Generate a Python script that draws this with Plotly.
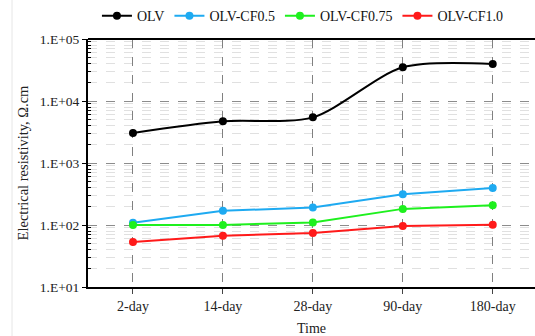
import plotly.graph_objects as go

# Curing ages and resistivity (Ω·cm) per mix
ages = ["2-day", "14-day", "28-day", "90-day", "180-day"]
olv = [3050, 4700, 5450, 35000, 39400]
olv_cf05 = [109, 169, 192, 313, 395]
olv_cf075 = [100, 100, 110, 182, 209]
olv_cf10 = [53, 67, 74, 96, 101]

series = [
    ("OLV", olv, "#000000", "spline"),
    ("OLV-CF0.5", olv_cf05, "#1EAAF1", "linear"),
    ("OLV-CF0.75", olv_cf075, "#1EF01E", "linear"),
    ("OLV-CF1.0", olv_cf10, "#FF1A1A", "linear"),
]

tick_vals = [10, 100, 1000, 10000, 100000]
tick_text = ["1.E+01", "1.E+02", "1.E+03", "1.E+04", "1.E+05"]
# intermediate 2..9 x 10^k grid positions
minor_vals = [m * 10 ** k for k in range(1, 5) for m in range(2, 10)]

font = "Liberation Serif"

fig = go.Figure()
for name, vals, color, shape in series:
    fig.add_trace(go.Scatter(
        x=ages, y=vals, name=name, mode="lines+markers",
        line=dict(color=color, width=2, shape=shape, smoothing=0.8),
        marker=dict(color=color, size=8),
    ))

fig.update_layout(
    width=535, height=336,
    margin=dict(l=88, r=0, t=37, b=49),
    paper_bgcolor="white", plot_bgcolor="white",
    font=dict(family=font, size=13, color="#222222"),
    showlegend=True,
    legend=dict(
        orientation="h", x=0.02, xanchor="left", y=1.092, yanchor="middle",
        font=dict(family=font, size=14, color="#111111"),
        itemwidth=30, tracegroupgap=0,
    ),
)

fig.update_xaxes(
    type="category", range=[-0.5, 4.47],
    showline=True, linecolor="black", linewidth=2,
    mirror=False,
    ticks="outside", ticklen=5, tickcolor="#444444",
    showgrid=True, gridcolor="#808080", griddash="dash", gridwidth=1,
    title=dict(text="Time", font=dict(family=font, size=14), standoff=10),
    tickfont=dict(family=font, size=14),
)

fig.update_yaxes(
    type="log", range=[1, 5],
    tickmode="array", tickvals=tick_vals, ticktext=tick_text,
    showline=True, linecolor="black", linewidth=2,
    ticks="outside", ticklen=4, tickcolor="black",
    showgrid=True, gridcolor="#8c8c8c", griddash="dash", gridwidth=1.2,
    minor=dict(
        tickmode="array", tickvals=minor_vals,
        showgrid=True, gridcolor="#e0e0e0", griddash="dash", gridwidth=1,
        ticks="inside", ticklen=3, tickcolor="black",
    ),
    title=dict(text="Electrical resistivity, Ω.cm", font=dict(family=font, size=14.5), standoff=8),
    tickfont=dict(family=font, size=13.5),
    zeroline=False,
)

# top border of the plot area
fig.add_shape(type="line", xref="paper", yref="paper", x0=0, x1=1, y0=1, y1=1,
              line=dict(color="black", width=2))
# faint chart-area frame on the left
fig.add_shape(type="line", xref="paper", yref="paper", x0=-0.17, x1=-0.17, y0=-0.25, y1=1.2,
              line=dict(color="#e6e6e6", width=1))

fig.write_html("out.html")
